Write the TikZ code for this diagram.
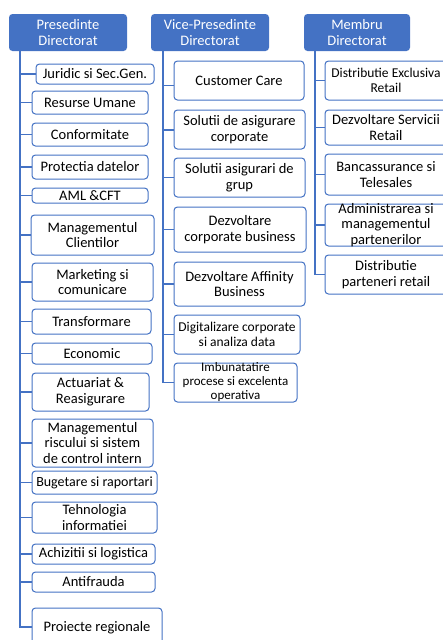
\documentclass[tikz,border=0pt]{standalone}
\usepackage{fontspec}
\setmainfont{Carlito}
\definecolor{orgblue}{HTML}{4472C4}
\tikzset{
  unitbox/.style={draw=orgblue, line width=1pt, fill=white, rounded corners=3.5pt, inner sep=0pt},
  headbox/.style={fill=orgblue, rounded corners=3.5pt, inner sep=0pt},
  boxtext/.style={align=center, inner sep=0pt, text=black},
  headtext/.style={align=center, inner sep=0pt, text=white},
  branch/.style={draw=orgblue, line width=1.5pt},
}
% \orgunit{name}{x1}{y1}{x2}{y2}{font size}{text}
\newcommand\orgunit[7]{%
  \node[unitbox, minimum width={#4pt-#2pt}, minimum height={#5pt-#3pt}]
    (#1) at ({(#2+#4)/2},{(#3+#5)/2}) {};
  \node[boxtext, font=\fontsize{#6}{\dimexpr#6pt+1pt\relax}\selectfont] (#1-txt) at (#1.center) {#7};
}
% \orghead{name}{x1}{y1}{x2}{y2}{text}
\newcommand\orghead[6]{%
  \node[headbox, minimum width={#4pt-#2pt}, minimum height={#5pt-#3pt}]
    (#1) at ({(#2+#4)/2},{(#3+#5)/2}) {};
  \node[headtext, font=\fontsize{14.5}{15.5}\selectfont] (#1-txt) at (#1.center) {#6};
}
\begin{document}
\begin{tikzpicture}[x=1pt,y=-1pt]
\useasboundingbox (0,0) rectangle (442,640);

% heads of the three branches
\orghead{pres}{9}{14}{127}{51}{Presedinte\\Directorat}
\orghead{vice}{151}{14}{269}{51}{Vice-Presedinte\\Directorat}
\orghead{memb}{304}{14}{410}{51}{Membru\\Directorat}

% trunk tops below each head
\coordinate (tp) at (20,51);
\coordinate (tv) at (163,51);
\coordinate (tm) at (315,51);

% connectors, drawn first so the boxes sit on top
\path[branch] (tp) |- (36,74);
\path[branch] (tp) |- (32,627);
\foreach \y in {102.5,134.5,167,195.5,235,282,321.5,353.5,392,443,482.5,517.5,554,582}{
  \path[branch] (20,\y) -- (32,\y);
}
\foreach \y in {85.5,130,177.5,229.5,284,334.5}{
  \path[branch] (163,\y) -- (174,\y);
}
\path[branch] (tv) |- (174,382.5);
\foreach \y in {80.5,127.5,174.5,225}{
  \path[branch] (315,\y) -- (325,\y);
}
\path[branch] (tm) |- (325,274.5);

% president's units
\orgunit{p1}{36}{64}{154}{84}{14.5}{Juridic si Sec.Gen.}
\orgunit{p2}{32}{91}{148}{114}{14.5}{Resurse Umane}
\orgunit{p3}{32}{123}{148}{146}{14.5}{Conformitate}
\orgunit{p4}{32}{155}{148}{179}{14.5}{Protectia datelor}
\orgunit{p5}{32}{188}{148}{203}{14.5}{AML \&CFT}
\orgunit{p6}{31}{215}{154}{255}{14.5}{Managementul\\Clientilor}
\orgunit{p7}{32}{263}{153}{301}{14.5}{Marketing si\\comunicare}
\orgunit{p8}{32}{309}{151}{334}{14.5}{Transformare}
\orgunit{p9}{32}{343}{152}{364}{14.5}{Economic}
\orgunit{p10}{32}{373}{149}{411}{14.5}{Actuariat \&\\Reasigurare}
\orgunit{p11}{32}{419}{153}{467}{14.5}{Managementul\\riscului si sistem\\de control intern}
\orgunit{p12}{32}{471}{157}{494}{14}{Bugetare si raportari}
\orgunit{p13}{32}{502}{157}{533}{14.5}{Tehnologia\\informatiei}
\orgunit{p14}{32}{544}{155}{564}{14.5}{Achizitii si logistica}
\orgunit{p15}{32}{572}{155}{592}{14.5}{Antifrauda}
\orgunit{p16}{32}{608}{162}{648}{14.5}{Proiecte regionale}

% vice-president's units
\orgunit{v1}{174}{61}{304}{100}{14.5}{Customer Care}
\orgunit{v2}{174}{110}{305}{149}{14.5}{Solutii de asigurare\\corporate}
\orgunit{v3}{174}{158}{305}{197}{14.5}{Solutii asigurari de\\grup}
\orgunit{v4}{174}{207}{306}{252}{14.5}{Dezvoltare\\corporate business}
\orgunit{v5}{174}{262}{305}{306}{14.5}{Dezvoltare Affinity\\Business}
\orgunit{v6}{174}{315}{300}{354}{13.5}{Digitalizare corporate\\si analiza data}
\orgunit{v7}{174}{363}{297}{402}{13}{Imbunatatire\\procese si excelenta\\operativa}

% member's units
\orgunit{m1}{325}{61}{447}{100}{13.5}{Distributie Exclusiva\\Retail}
\orgunit{m2}{325}{110}{447}{145}{14.5}{Dezvoltare Servicii\\Retail}
\orgunit{m3}{325}{154}{447}{195}{14.5}{Bancassurance si\\Telesales}
\orgunit{m4}{325}{204}{447}{246}{14.5}{Administrarea si\\managementul\\partenerilor}
\orgunit{m5}{325}{255}{447}{294}{14.5}{Distributie\\parteneri retail}
\end{tikzpicture}
\end{document}
